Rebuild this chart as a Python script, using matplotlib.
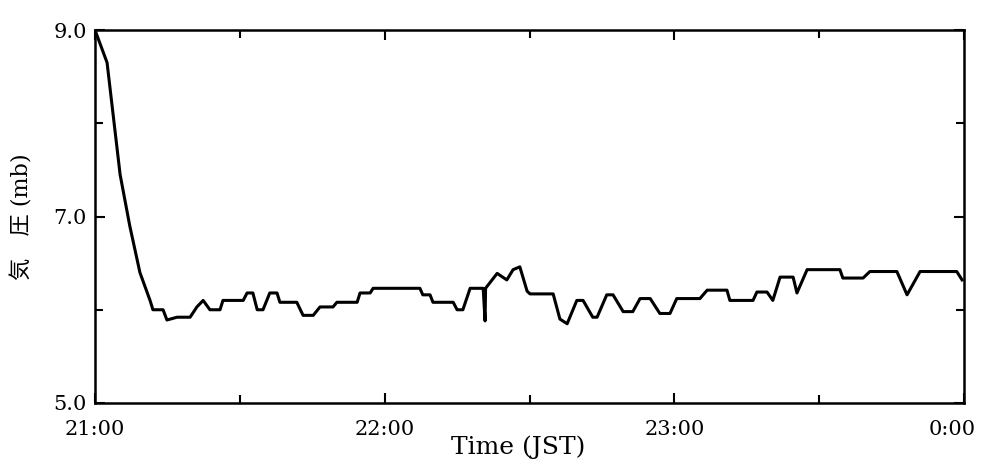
import matplotlib
matplotlib.use("Agg")
import matplotlib.pyplot as plt
from matplotlib.ticker import MultipleLocator
from matplotlib.transforms import ScaledTranslation

# minutes after 21:00 JST, pressure (mb)
minutes = [0.0, 2.5, 5.2, 7.2, 9.3, 11.4, 12.0, 14.1, 14.9, 17.0, 19.7, 21.1,
           22.4, 23.8, 25.9, 26.5, 30.7, 31.5, 32.7, 33.6, 34.8, 36.2, 37.7,
           38.3, 41.8, 43.1, 45.2, 46.6, 49.3, 50.1, 54.3, 54.9, 57.0, 57.6,
           67.3, 67.9, 69.4, 70.0, 74.2, 75.0, 76.2, 77.7, 80.4, 80.8, 80.9,
           81.8, 83.3, 85.3, 86.6, 88.0, 89.5, 90.1, 94.9, 96.3, 97.8, 99.8,
           101.1, 103.1, 104.0, 106.0, 107.3, 109.4, 111.4, 112.9, 115.0,
           117.0, 119.1, 120.5, 125.3, 126.8, 130.9, 131.5, 136.3, 137.1,
           139.2, 140.4, 141.9, 144.6, 145.4, 147.5, 154.3, 154.9, 159.1,
           160.5, 166.1, 168.2, 170.9, 178.5, 179.6]
pressure = [9.0, 8.65, 7.45, 6.9, 6.4, 6.1, 6.0, 6.0, 5.89, 5.92, 5.92, 6.03,
            6.1, 6.0, 6.0, 6.1, 6.1, 6.18, 6.18, 6.0, 6.0, 6.18, 6.18,
            6.08, 6.08, 5.94, 5.94, 6.03, 6.03, 6.08, 6.08, 6.18, 6.18, 6.23,
            6.23, 6.16, 6.16, 6.08, 6.08, 6.0, 6.0, 6.23, 6.23, 5.88, 6.23,
            6.29, 6.39, 6.32, 6.43, 6.46, 6.2, 6.17, 6.17, 5.9, 5.85, 6.1,
            6.1, 5.92, 5.92, 6.16, 6.16, 5.98, 5.98, 6.12, 6.12,
            5.96, 5.96, 6.12, 6.12, 6.21, 6.21, 6.1, 6.1, 6.19,
            6.19, 6.1, 6.35, 6.35, 6.18, 6.43, 6.43, 6.34, 6.34,
            6.41, 6.41, 6.16, 6.41, 6.41, 6.32]

x_ticks = [0, 60, 120, 180]
x_labels = ["21:00", "22:00", "23:00", "0:00"]
y_ticks = [5.0, 7.0, 9.0]

plt.rcParams["font.family"] = ["DejaVu Serif", "Noto Sans CJK JP"]

fig = plt.figure(figsize=(9.82, 4.70), dpi=100)
ax = fig.add_axes([95 / 982, 1 - 403 / 470, 869 / 982, 373 / 470])

ax.plot(minutes, pressure, color="black", linewidth=2.2)

ax.set_xlim(0, 180)
ax.set_ylim(5.0, 9.0)
ax.set_xticks(x_ticks)
ax.set_xticklabels(x_labels)
ax.xaxis.set_minor_locator(MultipleLocator(30))
ax.set_yticks(y_ticks)
ax.set_yticklabels(["%.1f" % v for v in y_ticks])
ax.yaxis.set_minor_locator(MultipleLocator(1.0))

ax.tick_params(which="both", direction="in", top=True, right=True,
               width=1.5, labelsize=15)
ax.tick_params(which="major", length=7)
ax.tick_params(which="minor", length=6)
ax.tick_params(axis="x", pad=12)
ax.tick_params(axis="y", pad=6)
for s in ax.spines.values():
    s.set_linewidth(1.8)

# last label sits left of the corner, like the original
last = ax.get_xticklabels()[-1]
last.set_horizontalalignment("right")
last.set_transform(last.get_transform() + ScaledTranslation(0.12, 0, fig.dpi_scale_trans))

ax.set_xlabel("Time (JST)", fontsize=18, labelpad=-2, x=0.487)
ax.set_ylabel("気\u3000圧 (mb)", fontsize=16, labelpad=14)

fig.savefig("out.png", dpi=100)
